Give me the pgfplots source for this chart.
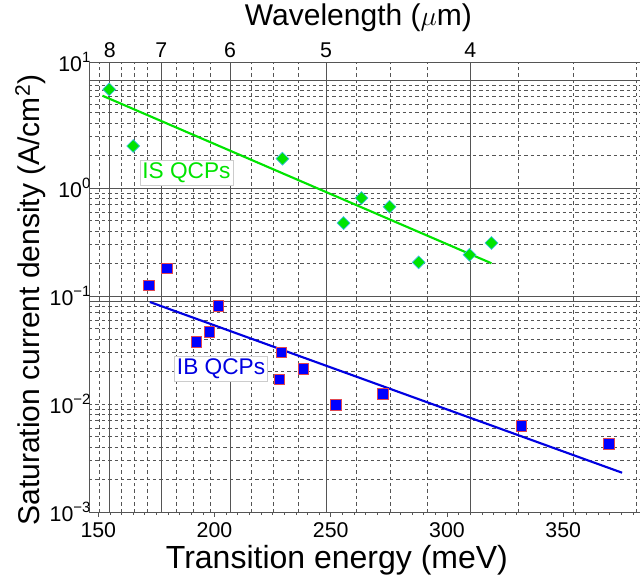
\documentclass[border=0pt]{standalone}
\usepackage{fontspec}
\setmainfont{Liberation Sans}
\usepackage{pgfplots}
\pgfplotsset{compat=1.18}

\definecolor{isgreen}{RGB}{0,228,0}
\definecolor{ibblue}{RGB}{0,0,225}
\definecolor{markblue}{RGB}{0,0,255}
\definecolor{markred}{RGB}{225,70,80}
\definecolor{markcyan}{RGB}{60,190,230}
\definecolor{gridgray}{RGB}{85,85,85}

% right-aligned decade labels of equal width
\newcommand{\decade}[1]{\makebox[30pt][r]{10\textsuperscript{#1}}}

% Intersubband (IS) and interband (IB) QCP data: transition energy (meV) vs. J_sat (A/cm^2)
\pgfplotstableread{
E      J
154.7  8.2
165.0  2.45
229.2  1.87
255.5  0.474
263.2  0.808
275.3  0.671
287.8  0.205
309.7  0.241
319.1  0.31
}\isdata
\pgfplotstableread{
E      J
171.7  0.125
179.4  0.180
192.2  0.0377
197.8  0.0465
201.7  0.081
227.9  0.0169
228.8  0.0301
238.2  0.0210
252.2  0.0098
272.4  0.0124
332.0  0.00626
369.7  0.0043
}\ibdata

\begin{document}
\begin{tikzpicture}
% wavelength axis on top, carrying the vertical grid
\begin{axis}[
  scale only axis, width=413.25pt, height=337.5pt,
  xmin=146, xmax=383, ymin=0, ymax=1,
  axis x line*=top, x axis line style={-, gridgray, line width=0.7pt},
  hide y axis,
  xtick={154.98,177.12,206.64,247.97,309.96},
  xticklabels={8,7,6,5,4},
  minor xtick={150.28,159.98,165.31,171.01,183.68,190.74,198.37,215.62,225.43,236.16,261.02,275.52,291.73,330.62,354.24,381.49},
  xtick style={draw=none},
  xmajorgrids, xminorgrids,
  major grid style={gridgray, line width=0.6pt},
  minor grid style={gridgray, line width=0.5pt, dash pattern=on 2.6pt off 2.2pt},
  ticklabel style={font=\fontsize{16}{19}\selectfont},
  xlabel={Wavelength ($\mu$m)},
  xlabel style={font=\fontsize{22.5}{26}\selectfont, at={(axis description cs:0.489,1)}, anchor=center, yshift=33pt},
]
\end{axis}

\begin{axis}[
  scale only axis, width=413.25pt, height=337.5pt,
  xmin=146, xmax=383,
  ymode=log, ymin=1e-3, ymax=14.7,
  axis x line*=bottom, axis y line*=left,
  x axis line style={-, gridgray, line width=0.7pt},
  y axis line style={-, gridgray, line width=0.7pt},
  xtick={150,200,250,300,350},
  minor xtick={155,160,...,380},
  tick align=outside,
  major tick length=3.75pt, minor tick length=2.2pt,
  xtick style={gridgray, line width=0.6pt},
  ytick={0.001,0.01,0.1,1,14.7},
  yticklabels={\decade{−3},\decade{−2},\decade{−1},\decade{0},\decade{1}},
  minor ytick={0.002,0.003,0.004,0.005,0.006,0.007,0.008,0.009,0.01,0.02,0.03,0.04,0.05,0.06,0.07,0.08,0.09,0.2,0.3,0.4,0.5,0.6,0.7,0.8,0.9,2,3,4,5,6,7,8,9},
  ytick style={draw=none},
  yminorgrids,
  minor grid style={gridgray, line width=0.5pt, dash pattern=on 2.6pt off 2.2pt},
  extra y ticks={0.09,0.1,1,10},
  extra y tick labels={},
  extra y tick style={ymajorgrids=true, major grid style={gridgray, solid, line width=0.6pt}, ytick style={draw=none}},
  /pgf/number format/assume math mode=true,
  ticklabel style={font=\fontsize{16}{19}\selectfont},
  xticklabel style={yshift=-1pt},
  yticklabel style={font=\fontsize{16}{19}\selectfont, anchor=east, inner sep=0pt, xshift=5.5pt},
  xlabel={Transition energy (meV)},
  xlabel style={font=\fontsize{24}{28}\selectfont, at={(axis description cs:0.45,0)}, anchor=center, yshift=-36pt},
  ylabel={Saturation current density (A/cm\textsuperscript{2})},
  ylabel style={font=\fontsize{22.5}{26}\selectfont, at={(axis description cs:-0.106,0.471)}, anchor=center},
  clip=false,
]
% exponential fits
\addplot[isgreen, line width=1.6pt] coordinates {(151.8,7.16) (319.1,0.201)};
\addplot[ibblue, line width=1.6pt] coordinates {(172.2,0.088) (375.3,0.00231)};
% measured devices
\addplot[only marks, mark=square*, mark size=3.4pt,
  mark options={fill=isgreen, draw=markcyan, line width=0.5pt, rotate=45}]
  table[x=E, y=J] {\isdata};
\addplot[only marks, mark=square*, mark size=4pt,
  mark options={fill=markblue, draw=markred, line width=0.6pt}]
  table[x=E, y=J] {\ibdata};
\node[draw=gray!40, fill=white, text=isgreen, inner sep=1.8pt, font=\fontsize{17}{20}\selectfont]
  at (axis cs:187.9,1.39) {IS QCPs};
\node[draw=gray!40, fill=white, text=ibblue, inner sep=1.8pt, font=\fontsize{17}{20}\selectfont]
  at (axis cs:202.8,0.0214) {IB QCPs};
\end{axis}
\pgfresetboundingbox
\path[use as bounding box] (-66.75pt,-51pt) rectangle (413.25pt,384pt);
\end{tikzpicture}
\end{document}
